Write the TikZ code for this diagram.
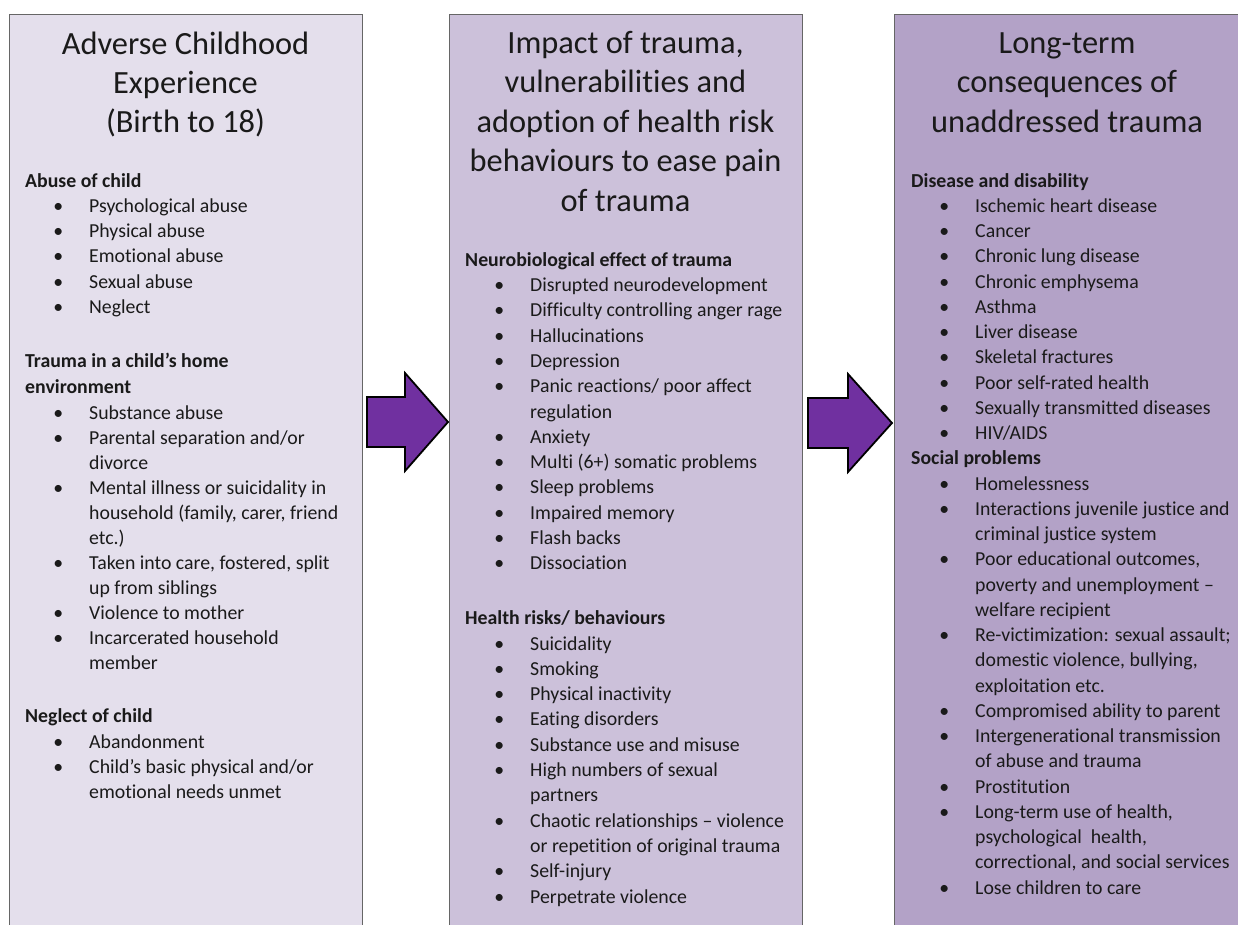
\documentclass[tikz,border=0pt]{standalone}
\usepackage{fontspec}
\setmainfont[Ligatures={NoCommon}]{Carlito}
\definecolor{boxA}{HTML}{E4DFEC}
\definecolor{boxB}{HTML}{CCC1DA}
\definecolor{boxC}{HTML}{B3A2C7}
\definecolor{arrowF}{HTML}{7030A0}
\definecolor{txt}{HTML}{1A1A1A}
\newcommand\bl{\llap{\textbullet\hspace{26pt}}}
\begin{document}
\begin{tikzpicture}[x=1pt,y=-1pt,
  box/.style={draw=black!60, line width=1.2pt, anchor=north west, inner sep=0pt},
  ttl/.style={anchor=base, inner sep=0pt, font=\fontsize{32.4}{39.5}\selectfont, text=txt},
  hdg/.style={anchor=base west, inner sep=0pt, font=\fontsize{19.8}{25.3}\selectfont\bfseries, text=txt},
  itm/.style={anchor=base west, inner sep=0pt, font=\fontsize{19.8}{25.3}\selectfont, text=txt},
  arr/.style={draw=black, line width=1.8pt, fill=arrowF, line join=miter}]
\useasboundingbox (0,0) rectangle (1238,924);
\clip (0,0) rectangle (1238,924);
% boxes
\node[box, fill=boxA, minimum width=353pt, minimum height=930pt] (boxL) at (9,14) {};
\node[box, fill=boxB, minimum width=353pt, minimum height=930pt] (boxM) at (449,14) {};
\node[box, fill=boxC, minimum width=346pt, minimum height=930pt] (boxR) at (894,14) {};
% arrows
\draw[arr] (367,397) -- (405,397) -- (405,373) -- (448,422) -- (405,471) -- (405,447) -- (367,447) -- cycle;
\draw[arr] (808,398) -- (848,398) -- (848,374) -- (892,423) -- (848,472) -- (848,448) -- (808,448) -- cycle;
% titles
\foreach \t [count=\i from 0] in {Adverse Childhood, Experience, (Birth to 18)}
  \node[ttl] (tL\i) at (185.5,{54+39.3*\i}) {\t};
\foreach \t [count=\i from 0] in {{Impact of trauma,}, vulnerabilities and, adoption of health risk, behaviours to ease pain, of trauma}
  \node[ttl] (tM\i) at (625.5,{53+39.5*\i}) {\t};
\foreach \t [count=\i from 0] in {Long-term, consequences of, unaddressed trauma}
  \node[ttl] (tR\i) at (1067,{53+39.5*\i}) {\t};
% left box
\node[hdg] (hLA) at (25,187) {Abuse of child};
\foreach \t [count=\i from 0] in {{\bl Psychological abuse}, {\bl Physical abuse}, {\bl Emotional abuse}, {\bl Sexual abuse}, {\bl Neglect}}
  \node[itm] (LA\i) at (89,{212.3+25.3*\i}) {\t};
\node[hdg] (hLB1) at (25,367.5) {Trauma in a child’s home};
\node[hdg] (hLB2) at (25,393.5) {environment};
\foreach \t [count=\i from 0] in {{\bl Substance abuse}, {\bl Parental separation and/or}, {divorce}, {\bl Mental illness or suicidality in}, {household (family, carer, friend}, {etc.)}, {\bl Taken into care, fostered, split}, {up from siblings}, {\bl Violence to mother}, {\bl Incarcerated household}, {member}}
  \node[itm] (LB\i) at (89,{419+25.05*\i}) {\t};
\node[hdg] (hLC) at (25,722.3) {Neglect of child};
\foreach \t [count=\i from 0] in {{\bl Abandonment}, {\bl Child’s basic physical and/or}, {emotional needs unmet}}
  \node[itm] (LC\i) at (89,{748+25.2*\i}) {\t};
% middle box
\node[hdg] (hMA) at (465,266) {Neurobiological effect of trauma};
\foreach \t [count=\i from 0] in {{\bl Disrupted neurodevelopment}, {\bl Difficulty controlling anger rage}, {\bl Hallucinations}, {\bl Depression}, {\bl Panic reactions/ poor affect}, {regulation}, {\bl Anxiety}, {\bl Multi (6+) somatic problems}, {\bl Sleep problems}, {\bl Impaired memory}, {\bl Flash backs}, {\bl Dissociation}}
  \node[itm] (MA\i) at (530,{291.5+25.3*\i}) {\t};
\node[hdg] (hMB) at (465,624.5) {Health risks/ behaviours};
\foreach \t [count=\i from 0] in {{\bl Suicidality}, {\bl Smoking}, {\bl Physical inactivity}, {\bl Eating disorders}, {\bl Substance use and misuse}, {\bl High numbers of sexual}, {partners}, {\bl Chaotic relationships – violence}, {or repetition of original trauma}, {\bl Self-injury}, {\bl Perpetrate violence}}
  \node[itm] (MB\i) at (530,{650+25.3*\i}) {\t};
% right box
\node[hdg] (hRA) at (911,187) {Disease and disability};
\foreach \t [count=\i from 0] in {{\bl Ischemic heart disease}, {\bl Cancer}, {\bl Chronic lung disease}, {\bl Chronic emphysema}, {\bl Asthma}, {\bl Liver disease}, {\bl Skeletal fractures}, {\bl Poor self-rated health}, {\bl Sexually transmitted diseases}, {\bl HIV/AIDS}}
  \node[itm] (RA\i) at (975,{212.3+25.25*\i}) {\t};
\node[hdg] (hRB) at (911,464.8) {Social problems};
\foreach \t [count=\i from 0] in {{\bl Homelessness}, {\bl Interactions juvenile justice and}, {criminal justice system}, {\bl Poor educational outcomes,}, {poverty and unemployment –}, {welfare recipient}, {\bl Re-victimization: sexual assault;}, {domestic violence, bullying,}, {exploitation etc.}, {\bl Compromised ability to parent}, {\bl Intergenerational transmission}, {of abuse and trauma}, {\bl Prostitution}, {\bl Long-term use of health,}, {psychological\ \ health,}, {correctional, and social services}, {\bl Lose children to care}}
  \node[itm] (RB\i) at (975,{490.05+25.25*\i}) {\t};
\end{tikzpicture}
\end{document}
